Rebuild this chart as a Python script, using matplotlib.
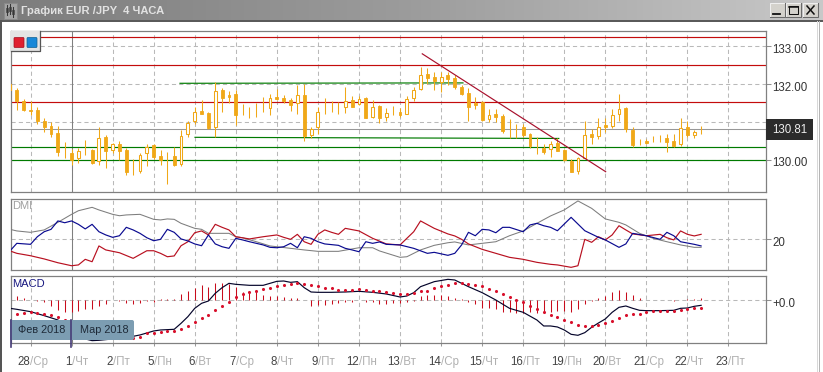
"""
EUR/JPY 4H terminal window: candles with DMI and MACD panels
"""
import numpy as np
import matplotlib
matplotlib.use("Agg")
import matplotlib.pyplot as plt
from matplotlib.colors import LinearSegmentedColormap
from matplotlib.patches import Rectangle, FancyBboxPatch
from matplotlib.transforms import ScaledTranslation

plt.rcParams['font.family'] = ['Liberation Sans', 'DejaVu Sans']

W, H = 823, 372

# price data, one row of values per candle
opens = [131.83,131.85,131.55,131.32,131.30,131.03,130.89,130.70,130.19,130.17,130.05,130.27,130.26,129.96,130.59,130.26,130.42,130.26,129.70,129.70,
         130.17,130.38,130.10,130.06,130.10,129.89,130.67,131.01,131.28,131.23,130.86,131.85,131.71,131.74,131.32,131.25,131.26,131.32,131.36,131.65,
         131.63,131.58,131.49,131.70,130.64,130.85,131.45,131.42,131.37,131.38,131.58,131.47,131.63,131.13,131.42,131.14,131.25,131.25,131.22,131.62,
         131.87,132.27,132.19,132.05,132.23,132.15,131.93,131.76,131.49,131.52,131.08,131.21,131.16,130.96,130.83,130.86,130.68,130.39,130.32,130.27,
         130.43,130.26,129.96,129.71,130.05,130.68,130.63,130.91,130.89,131.22,131.37,130.79,130.42,130.48,130.53,130.56,130.57,130.49,130.41,130.86,130.66,130.79]
highs = [132.07,131.89,131.60,131.54,131.40,131.09,130.99,130.90,130.46,130.28,130.30,130.52,130.28,130.86,130.65,130.45,130.48,130.30,130.01,130.17,
         130.41,130.41,130.26,130.21,130.33,130.79,131.03,131.40,131.58,131.27,132.05,131.89,131.82,131.85,131.47,131.38,131.51,131.65,131.74,131.86,
         131.71,131.62,131.98,132.00,130.87,131.39,131.62,131.56,131.52,131.92,131.69,131.69,131.67,131.58,131.45,131.36,131.42,131.36,131.69,131.93,
         132.46,132.42,132.31,132.31,132.33,132.24,131.98,131.89,131.67,131.56,131.34,131.33,131.21,131.08,130.94,130.94,130.70,130.61,130.42,130.48,
         130.57,130.28,130.01,130.08,131.03,130.81,131.09,131.09,131.33,131.74,131.39,130.86,130.54,130.55,130.63,130.65,130.67,130.67,131.09,131.01,130.79,130.89]
lows = [131.80,131.32,131.29,131.18,130.94,130.74,130.59,130.10,130.05,129.86,129.90,130.12,129.89,129.86,129.79,130.17,129.99,129.59,129.58,129.64,
        129.84,130.01,129.86,129.36,129.83,129.83,130.61,130.94,131.20,130.80,130.59,131.25,131.49,130.92,131.17,131.09,131.12,131.25,131.18,131.58,
        131.49,131.29,131.20,130.50,130.57,130.67,131.20,131.27,131.21,131.23,131.39,131.45,131.09,131.09,130.96,131.01,131.18,131.12,131.20,131.55,
        131.85,132.00,131.85,131.80,131.98,131.87,131.70,131.01,131.34,131.01,130.99,130.99,130.70,130.57,130.57,130.61,130.30,130.14,130.15,130.08,
        130.24,129.97,129.66,129.61,130.04,130.42,130.55,130.74,130.83,131.01,130.74,130.33,130.39,130.41,130.46,130.46,130.19,130.34,130.36,130.61,130.57,130.68]
closes = [132.00,131.54,131.30,131.28,131.01,130.87,130.68,130.19,130.16,129.99,130.23,130.24,129.92,130.57,130.24,130.41,130.24,129.68,129.67,130.12,
          130.34,130.08,129.99,130.03,129.86,130.63,130.96,131.26,131.21,130.84,131.82,131.62,131.66,131.17,131.30,131.23,131.25,131.29,131.62,131.61,
          131.56,131.45,131.70,130.63,130.80,131.25,131.43,131.40,131.35,131.55,131.40,131.61,131.11,131.40,131.11,131.23,131.23,131.19,131.60,131.85,
          132.24,132.15,132.07,132.19,132.14,131.91,131.74,131.40,131.44,131.05,131.18,131.14,130.77,130.94,130.81,130.65,130.37,130.36,130.21,130.42,
          130.24,129.99,129.68,130.04,130.65,130.61,130.87,130.87,131.17,131.34,130.81,130.39,130.40,130.43,130.50,130.54,130.47,130.37,130.83,130.64,130.73,130.78]

red_levels = [133.24, 132.50, 131.52]
green_levels = [130.34, 129.99]
last_price = 130.81
# start bar, end bar, start price, end price
green_trends = [(24.85, 66.2, 132.02, 132.03), (27.04, 80.2, 130.59, 130.56)]
red_trend = (60.25, 87.05, 132.80, 129.68)

# DMI
grey_bars = [0,1,3,5,7,9,10,12,13,15,16,17,19,21,22,23,24,25,27,28,29,32,33,34,36,38,39,41,43,45,48,51,53,54,57,58,60,62,64,65,67,69,71,73,75,77,79,81,83,85,87,89,90,92,94,96,98,100,101]
grey_vals = [25.0,24.2,23.5,24.7,28.5,32.5,34.3,36.0,34.7,32.5,31.8,32.2,32.5,30.0,29.7,30.2,30.0,28.0,25.5,25.0,23.0,23.0,21.3,20.8,18.8,16.7,16.3,15.5,14.7,14.0,14.0,15.8,15.8,14.2,11.0,11.3,14.7,17.0,18.3,18.7,17.2,18.0,18.8,21.8,24.2,28.0,31.7,34.7,39.2,35.5,30.2,28.5,27.2,23.0,20.5,18.8,17.2,16.0,16.0]
blue_bars = [0,1,3,4,5,6,7,8,9,10,11,12,13,14,15,16,17,18,19,20,21,22,23,24,25,26,27,28,29,30,31,32,33,34,35,37,38,39,40,41,42,43,44,45,46,48,49,50,51,52,53,54,55,57,59,61,62,64,65,66,67,68,69,70,71,72,73,75,76,77,78,79,80,82,84,86,87,89,90,91,93,95,96,97,98,100,101]
blue_vals = [14.2,18.0,17.5,21.3,23.8,25.0,29.2,28.3,29.2,27.5,25.2,27.5,23.8,22.2,21.0,21.8,26.0,24.7,23.0,20.8,19.3,20.0,25.0,23.5,20.2,19.2,17.7,16.8,22.2,17.7,16.3,15.5,20.5,19.7,18.8,17.2,16.0,15.8,16.3,18.0,15.8,21.3,20.5,18.8,17.7,17.0,15.5,14.7,13.8,18.8,18.0,18.7,17.5,17.2,15.5,13.0,13.5,12.0,13.0,17.2,23.5,21.8,25.0,24.7,23.3,26.0,26.0,23.8,27.2,28.0,26.8,26.0,24.3,31.0,24.3,21.0,19.7,16.0,17.7,23.0,21.8,20.0,23.5,21.8,18.8,17.5,16.7]
red_bars = [0,1,3,5,7,9,10,11,12,13,14,16,18,20,21,22,23,24,25,26,27,28,29,30,31,32,33,35,37,39,40,41,42,43,44,45,46,47,48,49,51,53,55,57,59,60,62,64,65,66,67,69,71,73,75,77,79,80,82,83,84,85,86,87,88,89,90,91,93,95,96,97,98,99,100,101]
red_vals = [14.2,13.0,11.8,10.2,8.3,6.8,7.2,10.0,8.8,16.7,14.7,13.3,10.5,14.3,14.3,13.0,11.3,11.7,16.8,18.8,23.3,24.2,22.2,27.5,26.0,24.7,21.3,20.2,21.3,22.2,21.0,20.0,22.5,18.8,17.5,22.5,24.7,23.5,22.5,25.5,24.2,20.5,17.7,17.2,23.8,29.2,25.5,22.7,21.7,20.0,17.7,15.0,13.0,11.0,10.0,8.5,7.5,7.2,6.0,6.8,20.0,18.5,21.3,19.7,22.2,26.8,24.7,22.7,21.8,22.5,20.8,19.7,24.2,22.5,21.7,22.5]

# MACD
macd_bars = [0,1,3,5,7,8,9,10,11,12,13,15,17,19,21,22,24,25,26,27,28,29,30,31,32,33,35,37,39,40,41,42,43,44,45,47,49,51,53,55,57,58,59,60,62,64,65,66,67,69,71,73,75,77,78,79,80,81,82,83,84,85,86,87,88,89,90,91,92,93,95,97,98,99,100,101]
macd_vals = [-.12,-.135,-.17,-.23,-.295,-.36,-.445,-.52,-.58,-.605,-.60,-.58,-.56,-.52,-.46,-.445,-.435,-.345,-.245,-.12,-.045,-.01,.105,.19,.255,.24,.225,.225,.285,.29,.27,.28,.19,.125,.12,.12,.125,.135,.12,.095,.05,.065,.115,.205,.28,.315,.305,.255,.205,.115,.005,-.12,-.18,-.295,-.385,-.385,-.40,-.445,-.51,-.525,-.485,-.405,-.34,-.28,-.18,-.105,-.085,-.12,-.15,-.155,-.155,-.15,-.12,-.115,-.09,-.075]
signal_vals = [-.21,-.19,-.18,-.195,-.21,-.225,-.255,-.295,-.345,-.395,-.435,-.47,-.495,-.52,-.545,-.56,-.555,-.56,-.545,-.495,
               -.485,-.475,-.465,-.465,-.435,-.39,-.33,-.27,-.225,-.15,-.08,-.02,.045,.095,.12,.14,.165,.18,.21,.23,
               .245,.255,.24,.225,.21,.19,.18,.16,.16,.16,.165,.16,.145,.135,.13,.115,.10,.10,.105,.14,
               .145,.18,.21,.23,.255,.255,.24,.225,.215,.165,.135,.09,.045,0,-.025,-.08,-.135,-.175,-.225,-.255,
               -.30,-.33,-.375,-.39,-.39,-.375,-.345,-.315,-.27,-.225,-.21,-.20,-.18,-.165,-.165,-.165,-.165,-.145,-.135,-.115,-.12]
hist_vals = [0,.065,.04,.005,-.005,-.03,-.08,-.145,-.17,-.18,-.155,-.135,-.135,-.09,-.05,0,-.005,-.035,-.05,-.035,
             -.01,-.02,.015,.015,.025,.09,.14,.19,.23,.20,.26,.26,.24,.205,.13,.12,.13,.08,.065,.065,
             .055,.04,.04,.005,-.085,-.07,-.07,-.055,-.035,-.03,-.02,0,-.02,-.03,-.05,-.055,-.035,-.045,-.02,-.005,
             .065,.08,.08,.08,.07,.03,.015,-.02,-.055,-.12,-.12,-.13,-.17,-.17,-.185,-.195,-.17,-.195,-.16,-.17,
             -.16,-.16,-.17,-.135,-.055,-.01,.03,.065,.12,.155,.12,.08,.03,.005,.005,.005,.005,-.01,.005,.02,.02,.04]

# gridlines and axis labels
grid_bars = list(range(3, 106, 6))
day_nums = ["28","1","2","5","6","7","8","9","12","13","14","15","16","19","20","21","22","23"]
day_names = ["Ср","Чт","Пт","Пн","Вт","Ср","Чт","Пт","Пн","Вт","Ср","Чт","Пт","Пн","Вт","Ср","Чт","Пт"]
month_labels = ["Фев 2018", "Мар 2018"]
price_ticks = [130, 131, 132, 133]
price_labels = ["130.00", "", "132.00", "133.00"]
sep_bar = 9

ORANGE = '#f0a818'
BORDER = '#808080'
GRID = '#b9b9b9'
THIN = 0.75

fig = plt.figure(figsize=(W/100, H/100), dpi=100, facecolor='white')


def px_axes(left, top, right, bottom, **kw):
    return fig.add_axes([left/W, 1-bottom/H, (right-left)/W, (bottom-top)/H], **kw)


# window frame, drawn in pixels
bg = fig.add_axes([0, 0, 1, 1], zorder=0)
grad = np.linspace(0, 1, 256).reshape(1, -1)
title_map = LinearSegmentedColormap.from_list('t', ['#7c7c7c', '#9c9c9c', '#c8c8c8'])
bg.imshow(grad, extent=(0, W, 20, 0), aspect='auto', cmap=title_map)
bg.set_xlim(0, W)
bg.set_ylim(H, 0)
bg.axis('off')
bg.add_patch(Rectangle((0, 20), W, 1.5, fc='#5a5a5a', ec='none'))
bg.add_patch(Rectangle((0, 20), 2, H-20, fc='#555555', ec='none'))
bg.add_patch(Rectangle((817, 21), 1, H-21, fc='#d8d8d8', ec='none'))
bg.add_patch(Rectangle((819, 21), 1.5, H-21, fc='#b5b5b5', ec='none'))
bg.text(21, 10.5, "График EUR /JPY  4 ЧАСА", color='#e2e2e2', fontsize=8.1, fontweight='bold', va='center', ha='left')
# title icon
bg.add_patch(Rectangle((4, 3), 13, 16, fc='#a4a4a4', ec='#8a8a8a', lw=THIN))
for ix, (a, b) in zip([7.5, 10.5, 13.5], [(5, 15), (4, 14), (7, 17)]):
    bg.plot([ix, ix], [a, b], color='#383838', lw=THIN)
    bg.add_patch(Rectangle((ix-1, a+3), 2, b-a-6, fc='#b8b8b8', ec='#383838', lw=0.5))
# window buttons
for bx, mark in zip([770, 786.5, 803], ['min', 'max', 'close']):
    bg.add_patch(Rectangle((bx, 3), 15, 14, fc='#d4d2cc', ec='#efefef', lw=THIN))
    bg.plot([bx+15, bx+15, bx], [3, 17, 17], color='#6a6a6a', lw=THIN)
    if mark == 'min':
        bg.plot([bx+3.5, bx+10], [13.5, 13.5], color='#111111', lw=1.3)
    if mark == 'max':
        bg.add_patch(Rectangle((bx+3, 6), 9, 8, fc='none', ec='#111111', lw=THIN))
        bg.plot([bx+3, bx+12], [6.5, 6.5], color='#111111', lw=1.1)
    if mark == 'close':
        bg.plot([bx+4, bx+11], [6, 14], color='#111111', lw=1.1)
        bg.plot([bx+4, bx+11], [14, 6], color='#111111', lw=1.1)

left, right = 10.5, 765.7
main = px_axes(left, 30.5, right, 192.3, zorder=1)
dmi = px_axes(left, 199, right, 270, zorder=1)
macd = px_axes(left, 276, right, 343.3, zorder=1)

xlim = (3+(left-30.5)/6.843, 3+(right-30.5)/6.843)
for ax in (main, dmi, macd):
    ax.set_xlim(*xlim)
    ax.yaxis.tick_right()
    ax.set_xticks(grid_bars)
    ax.set_xticklabels([])
    ax.tick_params(axis='x', length=0)
    ax.tick_params(axis='y', length=3.5, width=THIN, color='#909090', labelcolor='#333333', labelsize=8.3, pad=1.2)
    for s in ax.spines.values():
        s.set_color(BORDER)
        s.set_linewidth(0.9)
    ax.grid(True, color=GRID, lw=THIN, ls=(0, (4, 3)), zorder=0)
    ax.set_axisbelow(True)
    ax.axvline(sep_bar, color='#7f7f7f', lw=THIN, zorder=1)
macd.tick_params(axis='x', length=2, width=THIN, color='#999999')

# price panel
main.set_ylim(130+(479-577)/113.25, 130+(479-92)/113.25)
for lv in red_levels:
    main.axhline(lv, color='#c40c0c', lw=0.85, zorder=2)
for lv in green_levels:
    main.axhline(lv, color='#007a00', lw=0.85, zorder=2)
main.axhline(last_price, color='#989898', lw=THIN, zorder=2)
for x0, x1, y0, y1 in green_trends:
    main.plot([x0, x1], [y0, y1], color='#007a00', lw=0.85, zorder=2)

bars = np.arange(len(opens))
o = np.array(opens)
c = np.array(closes)
main.vlines(bars, lows, highs, color=ORANGE, lw=THIN, zorder=3)
# doji candles show as a bare wick
has_body = np.abs(o-c) > 0.035
up = (c >= o) & has_body
down = (c < o) & has_body
main.bar(bars[down], (o-c)[down], bottom=c[down], width=0.42, color=ORANGE, edgecolor=ORANGE, lw=0.6, zorder=4)
main.bar(bars[up], (c-o)[up], bottom=o[up], width=0.42, color='white', edgecolor=ORANGE, lw=THIN, zorder=4)
main.plot(red_trend[:2], red_trend[2:], color='#a8102c', lw=0.85, zorder=5)

main.set_yticks(price_ticks)
main.set_yticklabels(price_labels)
for tick in main.yaxis.get_major_ticks()[1:2]:
    tick.tick2line.set_visible(False)

# DMI panel, 20 sits at the dashed level
dmi.set_ylim(20+(133-225)/6, 20+(133-12)/6)
dmi.plot(grey_bars, grey_vals, color='#7d7d7d', lw=THIN, zorder=3)
dmi.plot(red_bars, red_vals, color='#b81020', lw=0.85, zorder=4)
dmi.plot(blue_bars, blue_vals, color='#0a0a90', lw=0.85, zorder=5)
dmi.set_yticks([20])
dmi.set_yticklabels(["20"])
dmi.text(0.0025, 0.9, "DMI", transform=dmi.transAxes, color='#a0a0a0', fontsize=8, va='center', ha='left')

# MACD panel
macd.set_ylim((316-445)*.005, (316-243)*.005)
macd.vlines(np.arange(len(hist_vals)), 0, hist_vals, color='#c80c1c', lw=THIN, zorder=3)
macd.plot(macd_bars, macd_vals, color='#04042a', lw=0.85, zorder=4)
macd.scatter(np.arange(1, len(signal_vals)+1), signal_vals, s=5, color='#d8102c', marker='o', lw=0, zorder=5)
macd.set_yticks([0])
macd.set_yticklabels(["+0.0"])
macd.text(0.0025, 0.88, "MACD", transform=macd.transAxes, color='#181880', fontsize=8, va='center', ha='left')

# tick labels sit a little lower than their ticks
shift = ScaledTranslation(0, -2/100, fig.dpi_scale_trans)
for ax in (main, dmi, macd):
    for lab in ax.get_yticklabels():
        lab.set_transform(lab.get_transform()+shift)

# day labels, the slash stays on the gridline
for gb, num, name in zip(grid_bars, day_nums, day_names):
    macd.annotate(num, xy=(gb, 0), xycoords=macd.get_xaxis_transform(), xytext=(0, -18.5),
                  textcoords='offset pixels', ha='right', va='center', fontsize=8.3, color='#444444', annotation_clip=False)
    macd.annotate("/"+name, xy=(gb, 0), xycoords=macd.get_xaxis_transform(), xytext=(0, -18.5),
                  textcoords='offset pixels', ha='left', va='center', fontsize=8.3, color='#b0b0b0', annotation_clip=False)

# overlay pieces, in pixels again
fg = fig.add_axes([0, 0, 1, 1], zorder=5)
fg.set_xlim(0, W)
fg.set_ylim(H, 0)
fg.axis('off')
fg.add_patch(FancyBboxPatch((13, 322), 119, 16, boxstyle='round,pad=2', fc='#7c9db2', ec='none'))
fg.add_patch(Rectangle((10.5, 320), 10, 20, fc='#7c9db2', ec='none'))
for dx in (11, 71.5):
    fg.plot([dx, dx], [320, 346.5], color='#463c78', lw=1.2)
fg.text(41.5, 330, month_labels[0], color='#1e2a38', fontsize=7.8, ha='center', va='center')
fg.text(104, 330, month_labels[1], color='#1e2a38', fontsize=7.8, ha='center', va='center')
# red and blue buttons
fg.add_patch(Rectangle((10.5, 30.5), 30, 20.5, fc='#e4e4e4', ec='none'))
fg.plot([40.5, 40.5, 11], [30.5, 51, 51], color='#555555', lw=0.9)
fg.add_patch(FancyBboxPatch((15, 38.5), 8, 8, boxstyle='round,pad=1', fc='#e02030', ec='#a01020', lw=0.5))
fg.add_patch(FancyBboxPatch((28, 38.5), 8, 8, boxstyle='round,pad=1', fc='#1888d8', ec='#106090', lw=0.5))
# last price tag
fg.add_patch(Rectangle((765.7, 119), 47.3, 21, fc='#2b2b2b', ec='none'))
fg.text(789.5, 130, f"{last_price:.2f}", color='#eeeeee', fontsize=8.3, ha='center', va='center')

plt.savefig("out.png", dpi=100)
